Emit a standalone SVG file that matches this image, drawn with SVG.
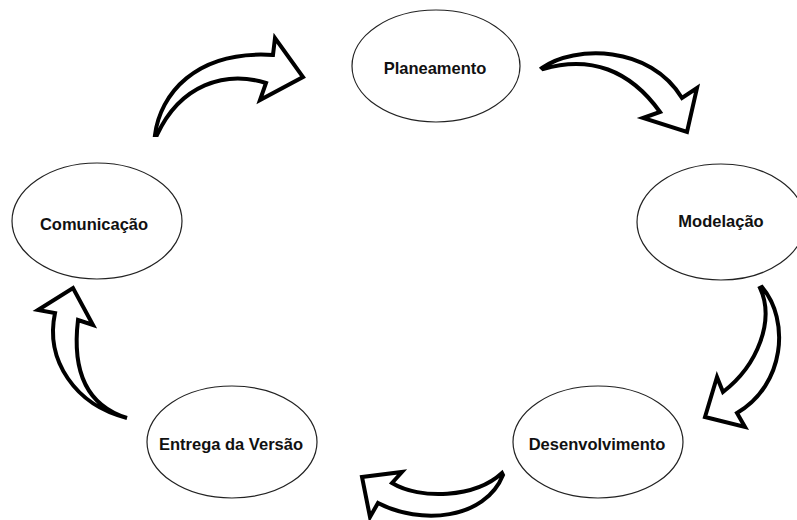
<svg xmlns="http://www.w3.org/2000/svg" width="797" height="520" viewBox="0 0 797 520">
  <style>
    .node ellipse { fill: #ffffff; stroke: #222222; stroke-width: 1.2; }
    .node text { font-family: "Liberation Sans", Arial, sans-serif; font-weight: bold; font-size: 16.5px; fill: #111111; text-anchor: middle; }
    .arrow { fill: #ffffff; stroke: #000000; stroke-width: 4; stroke-linejoin: miter; stroke-miterlimit: 10; }
  </style>
  <rect width="797" height="520" fill="#ffffff"/>

  <g id="connectors">
    <!-- Comunicação to Planeamento -->
    <path class="arrow" d="M155,135 C160,95 195,50 273,55 L275,38 L303,77 L260,100 L266,83 C225,70 180,85 157,135 Z"/>
    <!-- Planeamento to Modelação -->
    <path class="arrow" d="M542,68 C575,45 650,45 682,98 L697,88 L687,132 L643,118 L660,112 C630,70 590,55 543,69 Z"/>
    <!-- Modelação to Desenvolvimento -->
    <path class="arrow" d="M762,287 C790,320 785,385 737,413 L745,427 L705,417 L717,377 L723,392 C758,365 775,320 760,288 Z"/>
    <!-- Desenvolvimento to Entrega da Versão -->
    <path class="arrow" d="M502,473 C475,498 420,500 392,483 L402,472 L362,477 L370,517 L378,503 C420,525 485,520 503,475 Z"/>
    <!-- Entrega da Versão to Comunicação -->
    <path class="arrow" d="M127,418 C75,405 45,360 55,313 L38,310 L73,288 L93,325 L78,320 C72,370 85,405 127,418 Z"/>
  </g>

  <g id="planeamento" class="node">
    <ellipse cx="436" cy="66" rx="84" ry="56"/>
    <text x="435" y="74">Planeamento</text>
  </g>
  <g id="modelacao" class="node">
    <ellipse cx="721" cy="222" rx="84" ry="58"/>
    <text x="721" y="227">Modelação</text>
  </g>
  <g id="desenvolvimento" class="node">
    <ellipse cx="598" cy="442" rx="85" ry="56"/>
    <text x="597" y="450">Desenvolvimento</text>
  </g>
  <g id="entrega" class="node">
    <ellipse cx="232" cy="442" rx="85" ry="56"/>
    <text x="231" y="450">Entrega da Versão</text>
  </g>
  <g id="comunicacao" class="node">
    <ellipse cx="97" cy="221" rx="85" ry="58"/>
    <text x="94" y="230">Comunicação</text>
  </g>
</svg>
